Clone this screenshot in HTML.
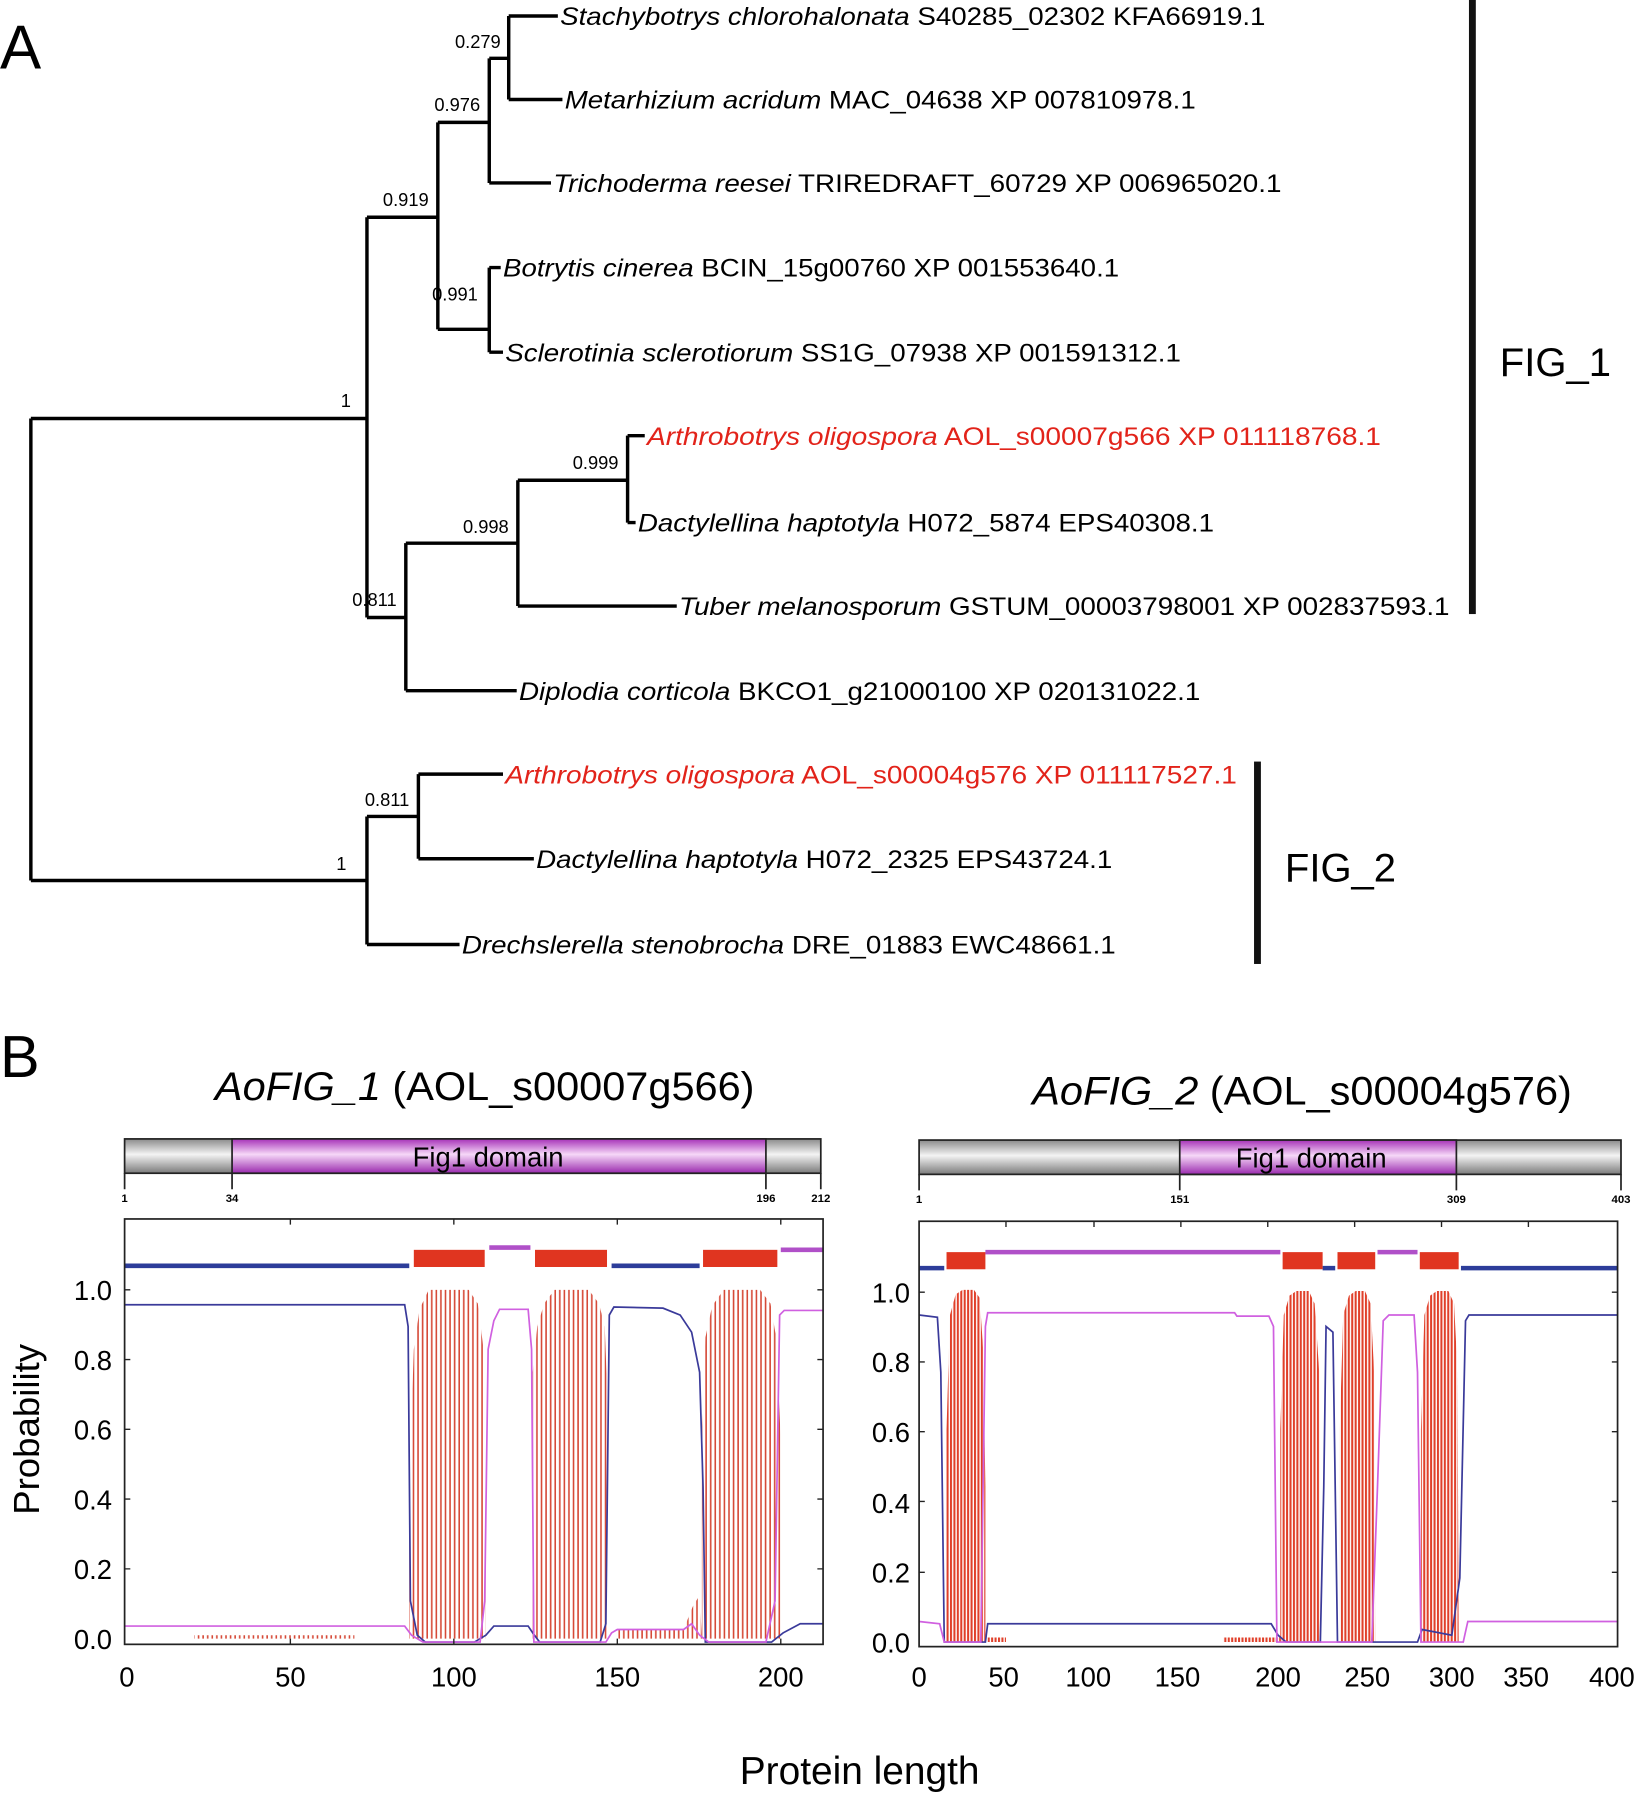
<!DOCTYPE html>
<html><head><meta charset="utf-8"><style>html,body{margin:0;padding:0;background:#fff}svg{display:block}text{font-family:"Liberation Sans",Arial,sans-serif}</style></head><body>
<svg width="1637" height="1793" viewBox="0 0 1432 1568" preserveAspectRatio="none" xmlns="http://www.w3.org/2000/svg">
<defs>
<linearGradient id="gr" x1="0" y1="0" x2="0" y2="1"><stop offset="0" stop-color="#8a8a8a"/><stop offset="0.45" stop-color="#f4f4f4"/><stop offset="1" stop-color="#7a7a7a"/></linearGradient>
<linearGradient id="mg" x1="0" y1="0" x2="0" y2="1"><stop offset="0" stop-color="#a632b8"/><stop offset="0.45" stop-color="#f6d8f8"/><stop offset="1" stop-color="#9a2aae"/></linearGradient>
<pattern id="s1" width="4" height="10" patternUnits="userSpaceOnUse"><rect x="1" y="0" width="1.4" height="10" fill="#d64a38"/></pattern>
<pattern id="s2" width="3" height="10" patternUnits="userSpaceOnUse"><rect x="0" y="0" width="1.8" height="10" fill="#e0402a"/></pattern>
</defs>
<text x="0" y="60" font-size="54">A</text>
<g stroke="#000" stroke-width="3" fill="none">
<path d="M27,366 V770 M27,366 H321 M27,770 H321 M321,190 V540 M321,190 H383 M383,107 V288 M383,107 H428 M428,51 V160 M428,51 H445 M445,14 V87 M445,14 H488 M445,87 H492 M428,160 H482 M383,288 H428 M428,234 V308 M428,234 H438 M428,308 H440 M321,540 H355 M355,475 V604 M355,475 H453 M453,420 V530 M453,420 H549 M549,381 V457 M549,381 H564 M549,457 H556 M453,530 H592 M355,604 H452 M321,714 V826 M321,714 H366 M366,677 V751 M366,677 H440 M366,751 H467 M321,826 H402"/>
</g>
<g font-size="22">
<text x="490" y="22" textLength="617" lengthAdjust="spacingAndGlyphs"><tspan font-style="italic">Stachybotrys chlorohalonata</tspan> S40285_02302 KFA66919.1</text>
<text x="494" y="95" textLength="552" lengthAdjust="spacingAndGlyphs"><tspan font-style="italic">Metarhizium acridum</tspan> MAC_04638 XP 007810978.1</text>
<text x="484" y="168" textLength="637" lengthAdjust="spacingAndGlyphs"><tspan font-style="italic">Trichoderma reesei</tspan> TRIREDRAFT_60729 XP 006965020.1</text>
<text x="440" y="242" textLength="539" lengthAdjust="spacingAndGlyphs"><tspan font-style="italic">Botrytis cinerea</tspan> BCIN_15g00760 XP 001553640.1</text>
<text x="442" y="316" textLength="591" lengthAdjust="spacingAndGlyphs"><tspan font-style="italic">Sclerotinia sclerotiorum</tspan> SS1G_07938 XP 001591312.1</text>
<text x="566" y="389" textLength="642" lengthAdjust="spacingAndGlyphs" fill="#e2231a"><tspan font-style="italic">Arthrobotrys oligospora</tspan> AOL_s00007g566 XP 011118768.1</text>
<text x="558" y="465" textLength="504" lengthAdjust="spacingAndGlyphs"><tspan font-style="italic">Dactylellina haptotyla</tspan> H072_5874 EPS40308.1</text>
<text x="594" y="538" textLength="674" lengthAdjust="spacingAndGlyphs"><tspan font-style="italic">Tuber melanosporum</tspan> GSTUM_00003798001 XP 002837593.1</text>
<text x="454" y="612" textLength="596" lengthAdjust="spacingAndGlyphs"><tspan font-style="italic">Diplodia corticola</tspan> BKCO1_g21000100 XP 020131022.1</text>
<text x="442" y="685" textLength="640" lengthAdjust="spacingAndGlyphs" fill="#e2231a"><tspan font-style="italic">Arthrobotrys oligospora</tspan> AOL_s00004g576 XP 011117527.1</text>
<text x="469" y="759" textLength="504" lengthAdjust="spacingAndGlyphs"><tspan font-style="italic">Dactylellina haptotyla</tspan> H072_2325 EPS43724.1</text>
<text x="404" y="834" textLength="572" lengthAdjust="spacingAndGlyphs"><tspan font-style="italic">Drechslerella stenobrocha</tspan> DRE_01883 EWC48661.1</text>
</g>
<g font-size="16" text-anchor="end">
<text x="438" y="42">0.279</text><text x="420" y="97">0.976</text><text x="375" y="180">0.919</text><text x="418" y="263">0.991</text><text x="307" y="356">1</text><text x="541" y="410">0.999</text><text x="445" y="466">0.998</text><text x="347" y="530">0.811</text><text x="358" y="705">0.811</text><text x="303" y="761">1</text>
</g>
<rect x="1285" y="0" width="6" height="537" fill="#111"/>
<rect x="1097" y="666" width="6" height="177" fill="#111"/>
<text x="1312" y="329" font-size="35">FIG_1</text>
<text x="1124" y="771" font-size="35">FIG_2</text>

<text x="0" y="942" font-size="52">B</text>
<text x="188" y="962" font-size="35" textLength="472" lengthAdjust="spacingAndGlyphs"><tspan font-style="italic">AoFIG_1</tspan> (AOL_s00007g566)</text>
<text x="903" y="966" font-size="35" textLength="472" lengthAdjust="spacingAndGlyphs"><tspan font-style="italic">AoFIG_2</tspan> (AOL_s00004g576)</text>

<g stroke="#222" stroke-width="1.5">
<rect x="109" y="996" width="609" height="30" fill="url(#gr)"/>
<rect x="203" y="996" width="467" height="30" fill="url(#mg)"/>
<rect x="804" y="997" width="614" height="30" fill="url(#gr)"/>
<rect x="1032" y="997" width="242" height="30" fill="url(#mg)"/>
<path d="M109,1026V1040 M203,1026V1040 M670,1026V1040 M718,1026V1040 M804,1027V1041 M1032,1027V1041 M1274,1027V1041 M1418,1027V1041" fill="none"/>
</g>
<text x="427" y="1020" font-size="24" text-anchor="middle">Fig1 domain</text>
<text x="1147" y="1021" font-size="24" text-anchor="middle">Fig1 domain</text>
<g font-size="10" font-weight="bold" text-anchor="middle">
<text x="109" y="1051">1</text><text x="203" y="1051">34</text><text x="670" y="1051">196</text><text x="718" y="1051">212</text>
<text x="804" y="1052">1</text><text x="1032" y="1052">151</text><text x="1274" y="1052">309</text><text x="1418" y="1052">403</text>
</g>

<g>
<path d="M358,1433 L358,1300 L362,1180 L367,1145 L375,1128 L410,1128 L418,1140 L423,1180 L425,1300 L425,1433Z" fill="url(#s1)"/>
<path d="M466,1433 L466,1200 L470,1160 L476,1140 L485,1128 L515,1128 L524,1140 L529,1160 L532,1240 L532,1433Z" fill="url(#s1)"/>
<path d="M614,1433 L614,1250 L617,1170 L623,1142 L633,1128 L665,1128 L674,1140 L679,1170 L683,1260 L683,1433Z" fill="url(#s1)"/>
<path d="M600,1433 L600,1420 L606,1405 L612,1395 L614,1433Z M170,1433 V1430 H310 V1433Z M540,1433 V1425 H600 V1433Z" fill="url(#s1)"/>
<path d="M109,1141 L354,1141 L357,1160 L359,1400 L365,1430 L372,1436 L415,1436 L425,1430 L432,1422 L462,1422 L466,1428 L472,1436 L525,1436 L530,1420 L533,1150 L537,1143 L580,1144 L595,1150 L605,1165 L612,1200 L615,1300 L617,1436 L675,1436 L685,1428 L700,1420 L720,1420" fill="none" stroke="#3a3a9a" stroke-width="1.5"/>
<path d="M109,1422 L354,1422 L360,1430 L370,1436 L420,1436 L424,1400 L427,1180 L432,1155 L437,1145 L462,1145 L465,1180 L467,1436 L530,1436 L535,1428 L540,1425 L598,1425 L605,1420 L612,1430 L620,1436 L670,1436 L678,1400 L682,1150 L686,1146 L720,1146" fill="none" stroke="#d060e0" stroke-width="1.5"/>
<g stroke-width="4" fill="none"><path d="M109,1107H358 M535,1107H612" stroke="#2d3d9a"/><path d="M428,1091H464 M683,1093H720" stroke="#b050c8"/></g>
<g fill="#e03520"><rect x="362" y="1093" width="62" height="15"/><rect x="468" y="1093" width="63" height="15"/><rect x="615" y="1093" width="65" height="15"/></g>
<rect x="109" y="1066" width="611" height="372" fill="none" stroke="#222" stroke-width="1.5"/>
<path d="M254,1066v5 M397,1066v5 M540,1066v5 M683,1066v5 M254,1438v-5 M397,1438v-5 M540,1438v-5 M683,1438v-5 M109,1128h5 M109,1189h5 M109,1250h5 M109,1311h5 M109,1372h5 M720,1128h-5 M720,1189h-5 M720,1250h-5 M720,1311h-5 M720,1372h-5" stroke="#222" stroke-width="1.2"/>
</g>
<g font-size="24" text-anchor="end">
<text x="98" y="1137">1.0</text><text x="98" y="1198">0.8</text><text x="98" y="1259">0.6</text><text x="98" y="1320">0.4</text><text x="98" y="1381">0.2</text><text x="98" y="1442">0.0</text>
<text x="796" y="1139">1.0</text><text x="796" y="1200">0.8</text><text x="796" y="1261">0.6</text><text x="796" y="1323">0.4</text><text x="796" y="1384">0.2</text><text x="796" y="1445">0.0</text>
</g>
<g font-size="24" text-anchor="middle">
<text x="111" y="1475">0</text><text x="254" y="1475">50</text><text x="397" y="1475">100</text><text x="540" y="1475">150</text><text x="683" y="1475">200</text>
<text x="804" y="1475">0</text><text x="878" y="1475">50</text><text x="952" y="1475">100</text><text x="1030" y="1475">150</text><text x="1118" y="1475">200</text><text x="1196" y="1475">250</text><text x="1270" y="1475">300</text><text x="1335" y="1475">350</text><text x="1410" y="1475">400</text>
</g>

<g>
<path d="M828,1436 L828,1250 L831,1150 L836,1132 L842,1128 L852,1128 L857,1135 L860,1180 L862,1300 L862,1436Z" fill="url(#s2)"/>
<path d="M1120,1436 L1120,1250 L1123,1150 L1128,1133 L1134,1129 L1145,1129 L1150,1140 L1154,1200 L1155,1436Z" fill="url(#s2)"/>
<path d="M1172,1436 L1172,1250 L1175,1150 L1180,1133 L1186,1129 L1194,1129 L1199,1140 L1202,1200 L1203,1436Z" fill="url(#s2)"/>
<path d="M1243,1436 L1243,1250 L1246,1150 L1251,1133 L1257,1129 L1267,1129 L1272,1140 L1275,1200 L1276,1436Z" fill="url(#s2)"/>
<path d="M1070,1436 V1432 H1120 V1436Z M864,1436 V1432 H880 V1436Z" fill="url(#s2)"/>
<path d="M804,1150 L820,1152 L823,1200 L826,1436 L862,1436 L864,1420 L1112,1420 L1118,1430 L1125,1436 L1155,1436 L1158,1300 L1160,1160 L1166,1165 L1170,1436 L1240,1436 L1244,1425 L1270,1430 L1277,1380 L1282,1155 L1285,1150 L1415,1150" fill="none" stroke="#3a3a9a" stroke-width="1.5"/>
<path d="M804,1418 L822,1420 L826,1436 L858,1436 L862,1160 L864,1148 L1080,1148 L1082,1151 L1110,1151 L1114,1160 L1117,1436 L1200,1436 L1205,1300 L1210,1155 L1215,1150 L1237,1150 L1240,1200 L1243,1436 L1280,1436 L1284,1418 L1415,1418" fill="none" stroke="#d060e0" stroke-width="1.5"/>
<g stroke-width="4" fill="none"><path d="M804,1109H826 M1157,1109H1168 M1278,1109H1415" stroke="#2d3d9a"/><path d="M862,1095H1120 M1205,1095H1240" stroke="#b050c8"/></g>
<g fill="#e03520"><rect x="828" y="1095" width="34" height="15"/><rect x="1122" y="1095" width="35" height="15"/><rect x="1170" y="1095" width="33" height="15"/><rect x="1242" y="1095" width="34" height="15"/></g>
<rect x="804" y="1068" width="611" height="372" fill="none" stroke="#222" stroke-width="1.5"/>
<path d="M880,1068v5 M957,1068v5 M1033,1068v5 M1109,1068v5 M1185,1068v5 M1261,1068v5 M1337,1068v5 M804,1130h5 M804,1191h5 M804,1252h5 M804,1313h5 M804,1375h5 M1415,1130h-5 M1415,1191h-5 M1415,1252h-5 M1415,1313h-5 M1415,1375h-5" stroke="#222" stroke-width="1.2"/>
</g>
<text transform="translate(34,1250) rotate(-90)" font-size="32" text-anchor="middle">Probability</text>
<text x="752" y="1560" font-size="34" text-anchor="middle">Protein length</text>
</svg>
</body></html>
